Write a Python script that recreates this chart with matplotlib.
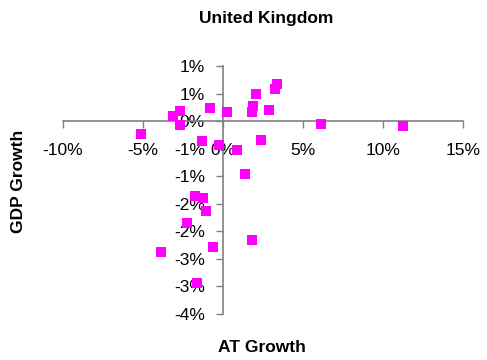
import math
import matplotlib
matplotlib.use('Agg')
import matplotlib.pyplot as plt
from matplotlib.ticker import FuncFormatter, MultipleLocator

plt.rcParams['font.family'] = ['Liberation Sans', 'DejaVu Sans']

# Dados (% de crescimento)
at_growth = [-5.1, -3.1, -2.7, -2.7, -0.8, 0.25, -1.3, -0.25, 0.9, 2.05, 1.9, 1.8,
             2.9, 3.4, 3.25, 2.4, 6.1, 11.25, 1.4, -1.75, -1.25, -1.05, -2.25,
             -3.9, -0.65, 1.8, -1.65]
gdp_growth = [-0.23, 0.09, 0.18, -0.07, 0.24, 0.16, -0.36, -0.44, -0.53, 0.49, 0.27, 0.17,
              0.2, 0.67, 0.58, -0.35, -0.05, -0.09, -0.96, -1.36, -1.4, -1.64, -1.84,
              -2.38, -2.28, -2.16, -2.93]

titulo = 'United Kingdom'
rotulo_x = 'AT Growth'
rotulo_y = 'GDP Growth'


def pct(v, pos):
    r = math.floor(abs(v) + 0.5 + 1e-9)
    if r == 0:
        return '0%'
    return ('-' if v < 0 else '') + '%d%%' % r


W, H = 487, 360
fig = plt.figure(figsize=(W / 100, H / 100), dpi=100)
ax = fig.add_axes([63 / W, (H - 314) / H, 400 / W, 248 / H])

ax.scatter(at_growth, gdp_growth, marker='s', s=42, color='#FF00FF', linewidths=0, zorder=3)

ax.set_xlim(-10, 15)
ax.set_ylim(-3.5, 1)
ax.xaxis.set_major_locator(MultipleLocator(5))
ax.yaxis.set_major_locator(MultipleLocator(0.5))
ax.xaxis.set_major_formatter(FuncFormatter(pct))
ax.yaxis.set_major_formatter(FuncFormatter(pct))

ax.spines['left'].set_position(('data', 0))
ax.spines['bottom'].set_position(('data', 0))
ax.spines['top'].set_visible(False)
ax.spines['right'].set_visible(False)
for s in ['left', 'bottom']:
    ax.spines[s].set_color('#808080')
    ax.spines[s].set_linewidth(1.2)

ax.tick_params(axis='x', direction='out', length=5, width=1, color='#808080',
               labelsize=12.5, pad=11)
ax.tick_params(axis='y', direction='out', length=5, width=1, color='#808080',
               labelsize=12.5, pad=8)

fig.text(266 / W, 1 - 18 / H, titulo, ha='center', va='center', fontsize=12.5, fontweight='bold')
fig.text(262 / W, 1 - 347 / H, rotulo_x, ha='center', va='center', fontsize=12.5, fontweight='bold')
fig.text(19 / W, 1 - 181 / H, rotulo_y, ha='center', va='center', rotation=90,
         fontsize=12.5, fontweight='bold')

fig.savefig('out.png', dpi=100)
